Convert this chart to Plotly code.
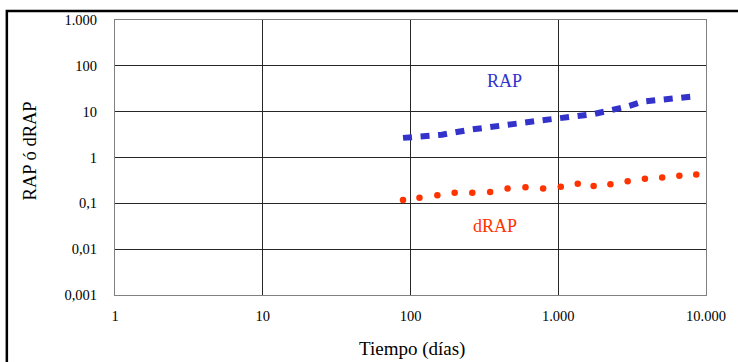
import plotly.graph_objects as go

# Time axis (days) and series values
rap_t = [89, 163, 257, 454, 782, 1734, 2244, 2951, 3758, 5836, 8280]
rap_v = [2.68, 3.14, 4.07, 5.01, 6.50, 8.87, 10.5, 13.0, 16.6, 19.4, 21.6]

drap_t = [89, 115, 152, 199, 262, 346, 454, 600, 790, 1040,
          1355, 1735, 2255, 2950, 3860, 5050, 6600, 8590]
drap_v = [0.118, 0.133, 0.151, 0.170, 0.170, 0.176, 0.211, 0.224, 0.211, 0.231,
          0.269, 0.239, 0.261, 0.304, 0.344, 0.365, 0.400, 0.425]

x_ticks = [1, 10, 100, 1000, 10000]
x_labels = ["1", "10", "100", "1.000", "10.000"]
y_ticks = [0.001, 0.01, 0.1, 1, 10, 100, 1000]
y_labels = ["0,001", "0,01", "0,1", "1", "10", "100", "1.000"]

BLUE = "#3333CC"
RED = "#FF3300"
SERIF = "Liberation Serif"

fig = go.Figure()
fig.add_trace(go.Scatter(
    x=rap_t, y=rap_v, mode="lines", name="RAP",
    line=dict(color=BLUE, width=6, dash="9px,8.6px"),
))
fig.add_trace(go.Scatter(
    x=drap_t, y=drap_v, mode="markers", name="dRAP",
    marker=dict(color=RED, size=6.5, line=dict(width=0)),
))

axis_common = dict(
    type="log", showgrid=True, gridcolor="#262626", gridwidth=1,
    showline=True, linecolor="#808080", linewidth=1, mirror=True,
    ticks="", zeroline=False,
    tickfont=dict(family=SERIF, size=14.5, color="#000000"),
)

fig.update_xaxes(range=[0, 4], tickvals=x_ticks, ticktext=x_labels,
                 ticklabelstandoff=8, **axis_common)
fig.update_yaxes(range=[-3, 3], tickvals=y_ticks, ticktext=y_labels,
                 ticklabelstandoff=14, **axis_common)

fig.update_layout(
    width=738, height=362,
    margin=dict(l=115, r=30, t=19, b=67),
    paper_bgcolor="#FFFFFF", plot_bgcolor="#FFFFFF",
    showlegend=False,
    annotations=[
        dict(text="RAP", x=0.6594, y=0.779, xref="paper", yref="paper",
             xanchor="center", yanchor="middle", showarrow=False,
             font=dict(family=SERIF, size=18, color=BLUE)),
        dict(text="dRAP", x=0.6425, y=0.25, xref="paper", yref="paper",
             xanchor="center", yanchor="middle", showarrow=False,
             font=dict(family=SERIF, size=18, color=RED)),
        dict(text="Tiempo (días)", x=0.5025, y=-0.1486, xref="paper", yref="paper",
             xanchor="center", yanchor="top", showarrow=False,
             font=dict(family=SERIF, size=19, color="#000000")),
        dict(text="RAP ó dRAP", x=-0.1442, y=0.525, xref="paper", yref="paper",
             xanchor="center", yanchor="middle", textangle=-90, showarrow=False,
             font=dict(family=SERIF, size=18.5, color="#000000")),
    ],
    shapes=[
        dict(type="rect", xref="paper", yref="paper",
             x0=-0.183, x1=1.0624, y0=-0.2717, y1=1.0326,
             line=dict(color="#000000", width=2.5), layer="above"),
    ],
)

fig.write_html("out.html")
